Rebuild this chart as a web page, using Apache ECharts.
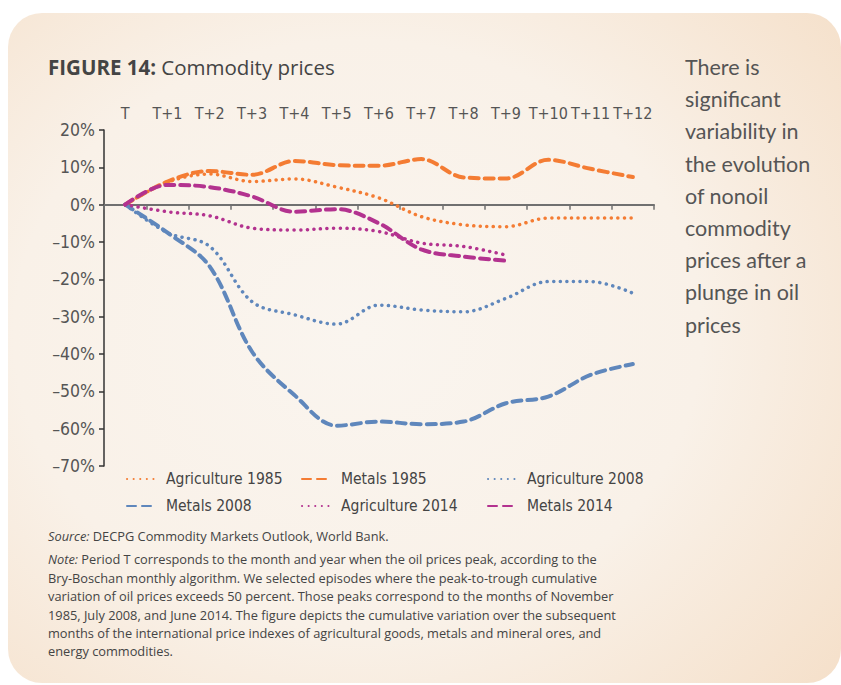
<!DOCTYPE html>
<html>
<head>
<meta charset="utf-8">
<script src="https://cdn.jsdelivr.net/npm/echarts@6/dist/echarts.min.js"></script>
<style>
    html, body {
        margin: 0;
        padding: 0;
        background: #fff;
        width: 841px;
        height: 685px;
        overflow: hidden;
    }
    .box {
        position: absolute;
        left: 8px;
        top: 13px;
        width: 833px;
        height: 670px;
        border-radius: 34px;
        background: radial-gradient(ellipse 75% 80% at 42% 48%, #faf5ef 0%, #f9f1e8 55%, #f5e0ca 100%);
    }
    .title {
        position: absolute;
        left: 48px;
        top: 53px;
        font-family: 'Open Sans', Lato, sans-serif;
        font-size: 20.5px;
        color: #444;
        white-space: nowrap;
    }
    .title b { font-weight: 700; }
    .side {
        position: absolute;
        left: 685px;
        top: 51px;
        font-family: Lato, 'Open Sans', sans-serif;
        font-size: 21.5px;
        line-height: 32.2px;
        color: #555;
        white-space: nowrap;
    }
    .notes {
        position: absolute;
        left: 48px;
        top: 527px;
        font-family: 'Open Sans', Lato, sans-serif;
        font-size: 12.8px;
        line-height: 18.4px;
        color: #444;
        white-space: nowrap;
    }
    .notes p { margin: 0 0 5px 0; }
    #chart {
        position: absolute;
        left: 0;
        top: 0;
        width: 841px;
        height: 685px;
    }
</style>
</head>
<body>
<div class="box"></div>
<div class="title"><b>FIGURE 14:</b> Commodity prices</div>
<div class="side">There is<br>significant<br>variability in<br>the evolution<br>of nonoil<br>commodity<br>prices after a<br>plunge in oil<br>prices</div>
<div class="notes">
    <p><i>Source:</i> DECPG Commodity Markets Outlook, World Bank.</p>
    <p><i>Note:</i> Period T corresponds to the month and year when the oil prices peak, according to the<br>Bry-Boschan monthly algorithm. We selected episodes where the peak-to-trough cumulative<br>variation of oil prices exceeds 50 percent. Those peaks correspond to the months of November<br>1985, July 2008, and June 2014. The figure depicts the cumulative variation over the subsequent<br>months of the international price indexes of agricultural goods, metals and mineral ores, and<br>energy commodities.</p>
</div>
<div id="chart"></div>
<script>
// months after the oil price peak
const periods = ['T', 'T+1', 'T+2', 'T+3', 'T+4', 'T+5', 'T+6', 'T+7', 'T+8', 'T+9', 'T+10', 'T+11', 'T+12']

// cumulative variation, %
const agriculture1985 = [0, 6, 8.2, 6.2, 6.9, 4.7, 1.8, -3.2, -5.4, -5.9, -3.6, -3.6, -3.6]
const metals1985 = [0, 6.2, 9, 8, 11.7, 10.6, 10.4, 12.2, 7.3, 7, 12, 9.6, 7.4]
const agriculture2008 = [0, -7.5, -11.2, -26, -29.5, -32, -26.9, -28.2, -28.7, -25.1, -20.6, -20.6, -23.7]
const metals2008 = [0, -7.5, -16.6, -39.4, -51, -59.2, -58.1, -58.8, -58.1, -53.2, -51.4, -45.6, -42.7]
const agriculture2014 = [0, -1.9, -3, -6.3, -6.8, -6.3, -7.2, -10.3, -11.2, -13.5]
const metals2014 = [0, 5.3, 4.7, 2.2, -1.9, -1.2, -5, -12, -13.9, -15]

const yTicks = { min: -70, max: 20, step: 10 }

const orange = '#f47c33'
const blue = '#5f87bc'
const magenta = '#b3328f'

const narrow = "'DejaVu Sans Condensed', 'Liberation Sans Narrow', sans-serif"

const dotted = (color) => ({ color, width: 3.5, type: [0.1, 6.5], cap: 'round' })
const dashed = (color) => ({ color, width: 4, type: [9, 6], cap: 'round' })

const makeLine = (name, data, lineStyle) => ({
    name,
    type: 'line',
    data,
    smooth: 0.35,
    symbol: 'none',
    lineStyle,
    itemStyle: { color: lineStyle.color },
    z: 3
})

const legendBase = {
    orient: 'vertical',
    itemWidth: 28,
    itemHeight: 10,
    itemGap: 7,
    itemStyle: { opacity: 0 },
    textStyle: {
        fontFamily: narrow,
        fontSize: 15.5,
        lineHeight: 20,
        color: '#444',
        padding: [0, 0, 0, 6]
    }
}

const chart = echarts.init(document.getElementById('chart'), null, { renderer: 'svg' })

chart.setOption({
    animation: false,
    grid: {
        left: 104,
        right: 187,
        top: 130,
        bottom: 219
    },
    legend: [
        { ...legendBase, left: 121, top: 464, data: ['Agriculture 1985', 'Metals 2008'] },
        { ...legendBase, left: 296, top: 464, data: ['Metals 1985', 'Agriculture 2014'] },
        { ...legendBase, left: 482, top: 464, data: ['Agriculture 2008', 'Metals 2014'] }
    ],
    xAxis: [
        {
            type: 'category',
            data: periods,
            boundaryGap: true,
            axisLine: { onZero: true, lineStyle: { color: '#707070', width: 2 } },
            axisTick: { show: true, length: 5, lineStyle: { color: '#707070', width: 1.5 } },
            axisLabel: { show: false },
            splitLine: { show: false }
        },
        {
            type: 'category',
            data: periods,
            position: 'top',
            boundaryGap: true,
            axisLine: { show: false, onZero: false },
            axisTick: { show: false },
            axisLabel: {
                interval: 0,
                margin: 9,
                fontFamily: narrow,
                fontSize: 16,
                color: '#555'
            }
        }
    ],
    yAxis: {
        type: 'value',
        min: yTicks.min,
        max: yTicks.max,
        interval: yTicks.step,
        axisLine: { show: true, lineStyle: { color: '#333', width: 1.5 } },
        axisTick: { show: true, length: 5, lineStyle: { color: '#333', width: 1.5 } },
        splitLine: { show: false },
        axisLabel: {
            margin: 9,
            fontFamily: narrow,
            fontSize: 17.5,
            color: '#555',
            formatter: (v) => (v < 0 ? '\u2013' + Math.abs(v) : v) + '%'
        }
    },
    series: [
        makeLine('Agriculture 1985', agriculture1985, dotted(orange)),
        makeLine('Metals 1985', metals1985, dashed(orange)),
        makeLine('Agriculture 2008', agriculture2008, dotted(blue)),
        makeLine('Metals 2008', metals2008, dashed(blue)),
        makeLine('Agriculture 2014', agriculture2014, dotted(magenta)),
        makeLine('Metals 2014', metals2014, dashed(magenta))
    ]
})
</script>
</body>
</html>
